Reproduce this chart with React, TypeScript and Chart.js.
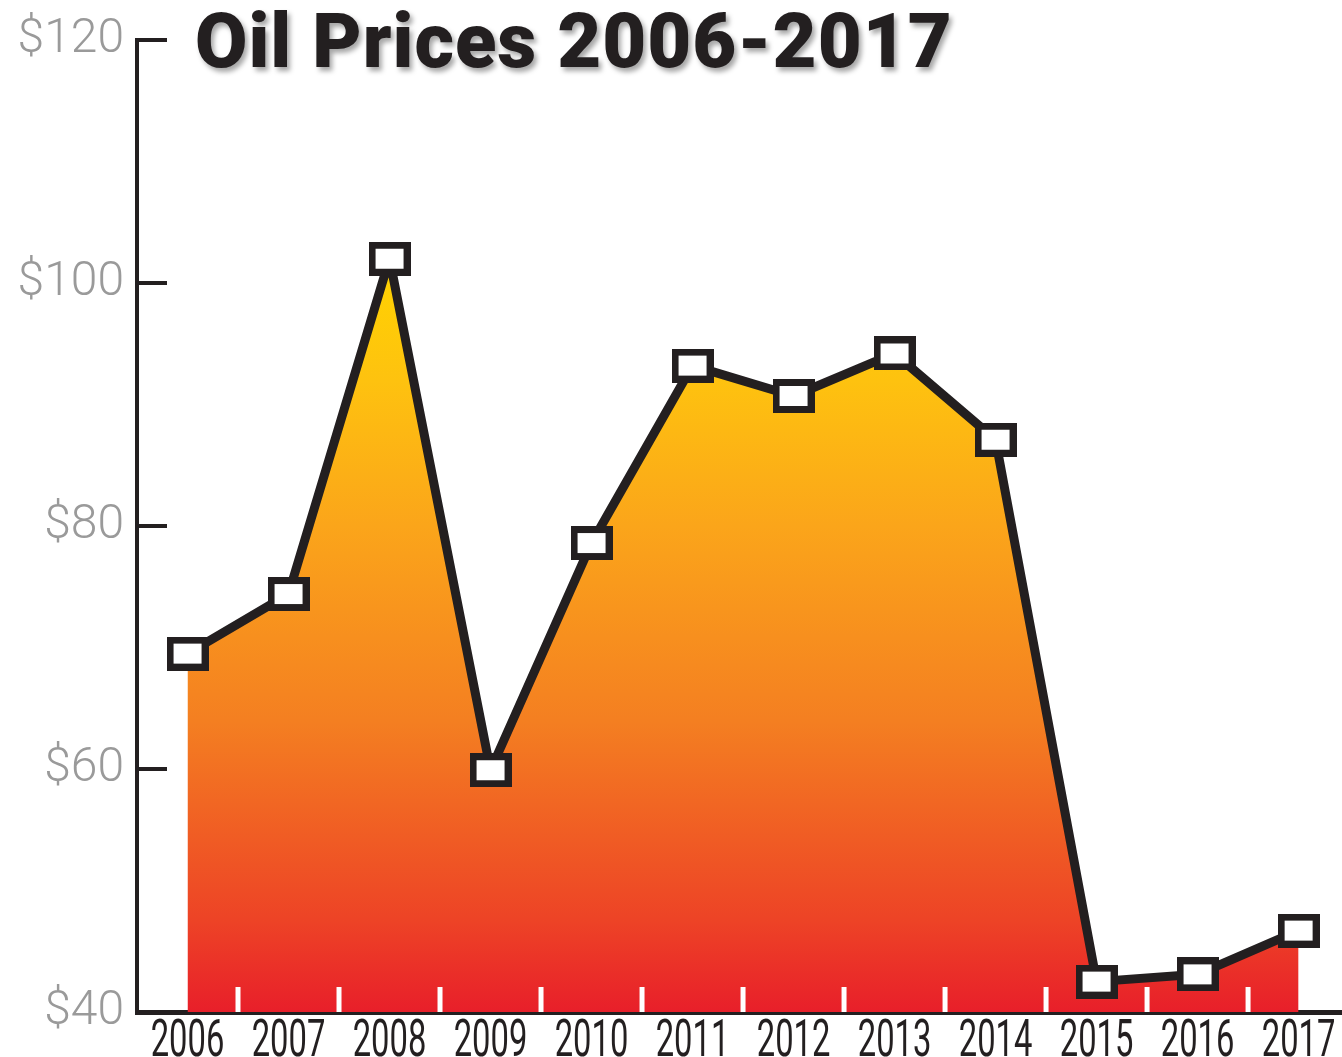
import React, { useEffect, useRef } from "react";
import { Chart, registerables } from "chart.js";

Chart.register(...registerables);

const years: number[] = [2006, 2007, 2008, 2009, 2010, 2011, 2012, 2013, 2014, 2015, 2016, 2017];
const prices: number[] = [69.5, 74.4, 102.0, 59.9, 78.6, 93.2, 90.7, 94.2, 87.1, 42.5, 43.1, 46.7];
const yTicks: number[] = [40, 60, 80, 100, 120];
const title = "Oil Prices 2006-2017";

const axisDecor = {
  id: "axisDecor",
  afterDatasetsDraw(chart: any) {
    const { ctx, chartArea, scales } = chart;
    const x = scales.x;
    ctx.save();
    ctx.strokeStyle = "#ffffff";
    ctx.lineWidth = 5;
    for (let i = 0; i < years.length - 1; i++) {
      const px = x.getPixelForValue(years[i] + 0.5);
      ctx.beginPath();
      ctx.moveTo(px, chartArea.bottom - 25);
      ctx.lineTo(px, chartArea.bottom);
      ctx.stroke();
    }
    ctx.restore();
  },
  afterDraw(chart: any) {
    const { ctx, chartArea, scales } = chart;
    const x = scales.x;
    const y = scales.y;
    ctx.save();
    ctx.strokeStyle = "#231f20";
    ctx.lineWidth = 4;
    yTicks.forEach((v) => {
      if (v === yTicks[0]) return;
      const py = y.getPixelForValue(v);
      ctx.beginPath();
      ctx.moveTo(chartArea.left, py);
      ctx.lineTo(chartArea.left + 30, py);
      ctx.stroke();
    });
    // condensed year labels
    ctx.fillStyle = "#231f20";
    ctx.font = "400 52px Roboto, sans-serif";
    ctx.textAlign = "center";
    ctx.textBaseline = "alphabetic";
    years.forEach((yr) => {
      const px = x.getPixelForValue(yr);
      ctx.save();
      ctx.translate(px, chartArea.bottom + 44);
      ctx.scale(0.63, 1);
      ctx.fillText(String(yr), 0, 0);
      ctx.restore();
    });
    ctx.restore();
  },
};

function makeMarker(): HTMLCanvasElement {
  const c = document.createElement("canvas");
  c.width = 42;
  c.height = 34;
  const g = c.getContext("2d")!;
  g.fillStyle = "#231f20";
  g.fillRect(0, 0, 42, 34);
  g.fillStyle = "#ffffff";
  g.fillRect(7, 7, 28, 20);
  return c;
}

export default function App() {
  const ref = useRef<HTMLCanvasElement | null>(null);
  useEffect(() => {
    if (!ref.current) return;
    const marker = makeMarker();
    const chart = new Chart(ref.current, {
      type: "line",
      data: {
        datasets: [
          {
            data: years.map((yr, i) => ({ x: yr, y: prices[i] })),
            borderColor: "#231f20",
            borderWidth: 9,
            borderJoinStyle: "round",
            fill: "start",
            clip: false,
            backgroundColor: (ctx: any) => {
              const { chart } = ctx;
              const { chartArea, scales } = chart;
              if (!chartArea) return "#f58021";
              const y = scales.y;
              const top = y.getPixelForValue(102);
              const bot = chartArea.bottom;
              const g = chart.ctx.createLinearGradient(0, top, 0, bot);
              const f = (p: number) => Math.min(1, Math.max(0, (p - top) / (bot - top)));
              g.addColorStop(0, "#ffd400");
              g.addColorStop(f(y.getPixelForValue(92)), "#fec20f");
              g.addColorStop(f(y.getPixelForValue(80)), "#fba51a");
              g.addColorStop(f(y.getPixelForValue(64)), "#f47f21");
              g.addColorStop(f(y.getPixelForValue(47.5)), "#ed4326");
              g.addColorStop(1, "#e81f2a");
              return g;
            },
            pointStyle: marker,
            pointRadius: 20,
            tension: 0,
          },
        ],
      },
      options: {
        animation: false,
        responsive: false,
        maintainAspectRatio: false,
        layout: { autoPadding: false, padding: { top: 40, right: 0, left: 0, bottom: 0 } },
        plugins: { legend: { display: false }, tooltip: { enabled: false } },
        scales: {
          x: {
            type: "linear",
            min: 2005.5,
            max: 2017.43,
            afterFit: (s: any) => {
              s.height = 45;
            },
            afterBuildTicks: (s: any) => {
              s.ticks = years.map((v) => ({ value: v }));
            },
            grid: { display: false },
            border: { display: true, color: "#231f20", width: 5 },
            ticks: { display: false },
          },
          y: {
            min: 40,
            max: 120,
            afterFit: (s: any) => {
              s.width = 137;
            },
            afterBuildTicks: (s: any) => {
              s.ticks = yTicks.map((v) => ({ value: v }));
            },
            grid: { display: false },
            border: { display: true, color: "#231f20", width: 4 },
            ticks: {
              padding: 5,
              color: "#9a9a9a",
              font: { family: "Roboto", weight: "300", size: 48 },
              callback: (v: any) => "$" + v,
            },
          },
        },
      },
      plugins: [axisDecor],
    } as any);
    return () => chart.destroy();
  }, []);
  return (
    <div style={{ position: "fixed", left: 0, top: 0, width: 1342, height: 1057, background: "#ffffff", overflow: "hidden" }}>
      <canvas ref={ref} width={1342} height={1057} style={{ display: "block" }} />
      <div
        style={{
          position: "absolute",
          left: 195,
          top: 3,
          fontFamily: "Roboto, sans-serif",
          fontWeight: 900,
          fontSize: 76,
          lineHeight: 1,
          color: "#231f20",
          letterSpacing: 1,
          whiteSpace: "nowrap",
          textShadow: "3px 4px 5px rgba(0,0,0,0.35)",
        }}
      >
        {title}
      </div>
    </div>
  );
}
